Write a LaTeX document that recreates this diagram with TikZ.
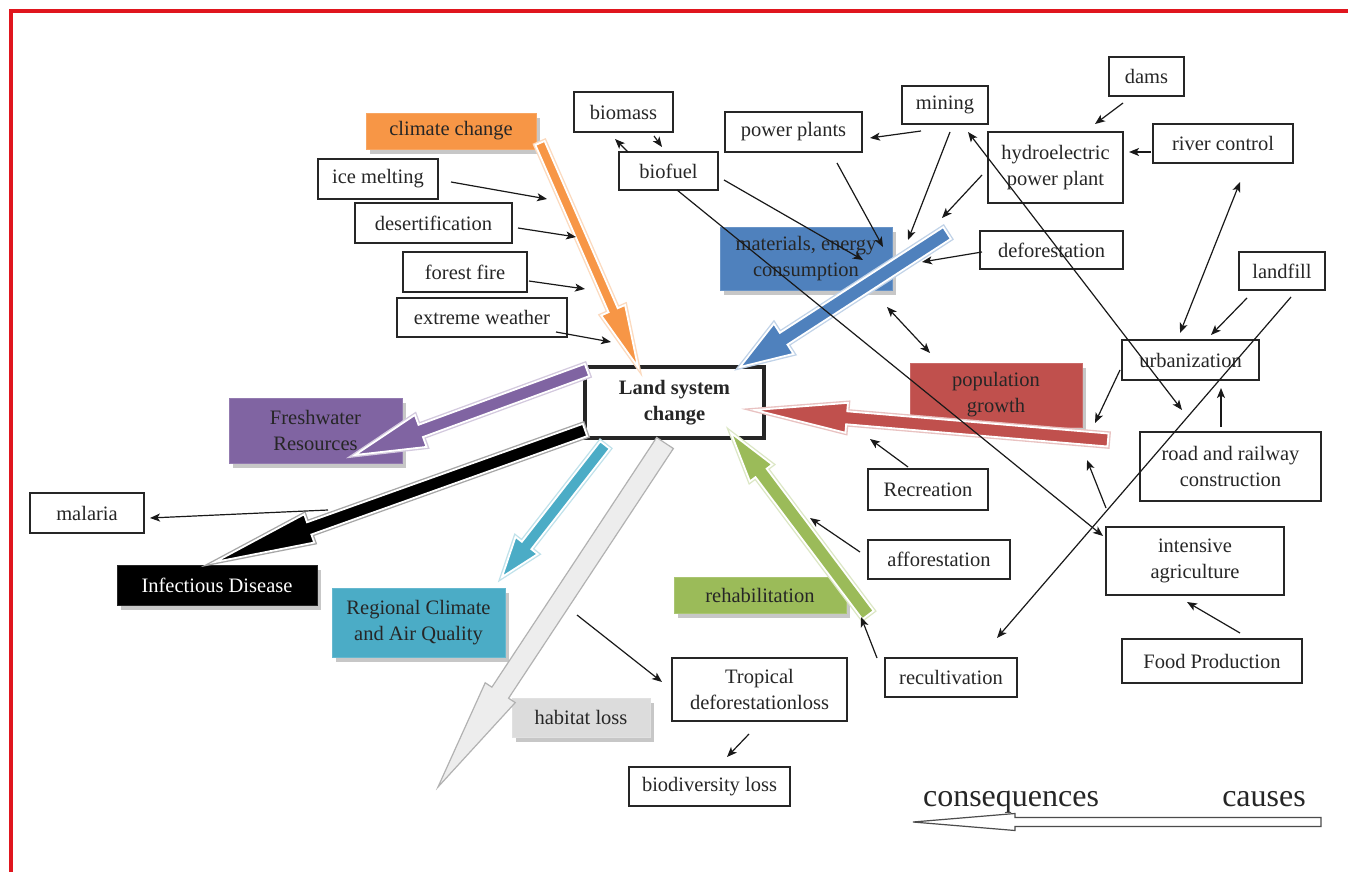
\documentclass[tikz,border=0pt]{standalone}
\usepackage{fontspec}
\setmainfont{Liberation Serif}
\usetikzlibrary{calc,arrows.meta,shadows}
\definecolor{wOrange}{HTML}{F79646}
\definecolor{wBlue}{HTML}{4F81BD}
\definecolor{wRed}{HTML}{C0504D}
\definecolor{wPurple}{HTML}{8064A2}
\definecolor{wCyan}{HTML}{4BACC6}
\definecolor{wGreen}{HTML}{9BBB59}
\definecolor{wGray}{HTML}{DCDCDC}
\definecolor{wFrame}{HTML}{E0161E}
\newcommand{\blockarr}[5]{%
  \coordinate (#2h) at ($(#2t)!#5pt!(#2s)$);
  \draw[#1] ($(#2s)!#3pt!90:(#2t)$) -- ($(#2h)!#3pt!90:(#2t)$) -- ($(#2h)!#4pt!90:(#2t)$) -- (#2t)
    -- ($(#2h)!#4pt!-90:(#2t)$) -- ($(#2h)!#3pt!-90:(#2t)$) -- ($(#2s)!#3pt!-90:(#2t)$) -- cycle;}
\tikzset{
 lbl/.style={font=\fontsize{20.5}{26}\selectfont, text=black!85},
 box/.style={lbl, draw=black!85, line width=1.4pt, fill=white, inner sep=0pt, align=center},
 cbox/.style={lbl, inner sep=0pt, align=center, fill=#1, draw=#1!85!white, line width=0.8pt,
   drop shadow={shadow xshift=4pt, shadow yshift=-5pt, fill=black, opacity=0.22}},
 sz/.style 2 args={minimum width=#1pt, minimum height=#2pt},
 lnk/.style={line width=1.2pt, draw=black!90},
 arrone/.style={lnk, -{Stealth[length=10pt,width=8pt,inset=2.5pt]}},
 arrtwo/.style={lnk, {Stealth[length=10pt,width=8pt,inset=2.5pt]}-{Stealth[length=10pt,width=8pt,inset=2.5pt]}},
 blk/.style={fill=#1, draw=white, line width=1.8pt, line join=miter,
   preaction={draw=#1!35!white, line width=4.5pt, line join=miter}},
 legtext/.style={font=\fontsize{32}{32}\selectfont, text=black!85, anchor=base, inner sep=0pt},
}
\begin{document}
\begin{tikzpicture}[x=1pt,y=-1pt]
\useasboundingbox (0,0) rectangle (1348,872);
\fill[white] (0,0) rectangle (1348,872);
\draw[wFrame, line width=3.5pt] (1348,11) -- (11,11) -- (11,872);

% ---------- coloured boxes ----------
\node[cbox=wOrange, sz={170}{36}] (climate) at (451,131) {climate change};
\node[cbox=wBlue, sz={172}{63}] (materials) at (806,258.5) {materials, energy\\consumption};
\node[cbox=wRed, sz={172}{64}] (population) at (996,395) {population\\growth};
\node[cbox=wGreen, sz={172}{36}] (rehab) at (760,595) {rehabilitation};
\node[cbox=wPurple, sz={173}{65}] (fresh) at (315.5,430.5) {Freshwater\\Resources};
\node[cbox=black, text=white, sz={200}{40}] (infect) at (217,585) {Infectious Disease};
\node[cbox=wCyan, sz={173}{69}] (regional) at (418.5,622.5) {Regional Climate\\and Air Quality};
\node[cbox=wGray, sz={138}{39}] (habitat) at (581,717.5) {habitat loss};

% ---------- white boxes ----------
\node[box, sz={99}{40}] (biomass) at (623.5,112) {biomass};
\node[box, sz={99}{38}] (biofuel) at (668.5,171) {biofuel};
\node[box, sz={120}{40}] (ice) at (378,179) {ice melting};
\node[box, sz={157}{40}] (desert) at (433.5,223) {desertification};
\node[box, sz={124}{40}] (fire) at (465,272) {forest fire};
\node[box, sz={170}{39}] (extreme) at (482,317.5) {extreme weather};
\node[box, sz={179}{71}, line width=3.5pt, font=\bfseries\fontsize{20.5}{26}\selectfont] (land) at (674.5,402.5) {Land system\\change};
\node[box, sz={137}{40}] (power) at (793.5,132) {power plants};
\node[box, sz={86}{38}] (mining) at (945,105) {mining};
\node[box, sz={75}{39}] (dams) at (1146.5,76.5) {dams};
\node[box, sz={135}{71}] (hydro) at (1055.5,167.5) {hydroelectric\\power plant};
\node[box, sz={140}{39}] (river) at (1223,143.5) {river control};
\node[box, sz={143}{38}] (defor) at (1051.5,250) {deforestation};
\node[box, sz={86}{38}] (landfill) at (1282,271) {landfill};
\node[box, sz={137}{40}] (urban) at (1190.5,360) {urbanization};
\node[box, sz={181}{69}] (road) at (1230.5,466.5) {road and railway\\construction};
\node[box, sz={120}{41}] (recreation) at (928,489.5) {Recreation};
\node[box, sz={142}{39}] (affor) at (939,559.5) {afforestation};
\node[box, sz={178}{68}] (intensive) at (1195,561) {intensive\\agriculture};
\node[box, sz={180}{44}] (food) at (1212,661) {Food Production};
\node[box, sz={132}{39}] (recult) at (951,677.5) {recultivation};
\node[box, sz={175}{63}] (tropical) at (759.5,689.5) {Tropical\\deforestationloss};
\node[box, sz={161}{39}] (biodiv) at (709.5,786.5) {biodiversity loss};
\node[box, sz={114}{40}] (malaria) at (87,513) {malaria};

% ---------- block arrows ----------
\coordinate (os) at (540,143);  \coordinate (ot) at (638,367);
\coordinate (bs) at (947,233);  \coordinate (bt) at (740,367);
\coordinate (rs) at (1108,440); \coordinate (rt) at (755,410);
\coordinate (ps) at (587,370);  \coordinate (pt) at (355,455);
\coordinate (ks) at (585,430);  \coordinate (kt) at (215,562);
\coordinate (cs) at (605,445);  \coordinate (ct) at (502,577);
\coordinate (gs) at (665,443);  \coordinate (gt) at (438,787);
\coordinate (ns) at (868,615);  \coordinate (nt) at (731,433);
\blockarr{blk=wOrange}{o}{5}{13}{62}
\blockarr{blk=wBlue}{b}{7}{18}{52}
\blockarr{blk=wRed}{r}{6.5}{15}{92}
\blockarr{blk=wPurple}{p}{6.5}{17}{70}
\blockarr{blk=black}{k}{6.5}{15}{100}
\blockarr{blk=wCyan}{c}{6}{14}{40}
\blockarr{fill=black!7, draw=black!30, line width=1.2pt, line join=miter}{g}{10}{18}{113}
\blockarr{blk=wGreen}{n}{7}{14}{50}

% ---------- thin arrows ----------
\foreach \n/\a/\b/\c/\d in {1/451/182/547/199, 2/518/228/576/237, 3/529/281/585/289, 4/556/332/611/342,
  5/628/152/615/139, 6/654/136/662/147, 7/921/131/870/138, 8/950/132/908/240, 9/837/163/883/247,
  10/724/180/863/260, 11/677/190/1103/536, 12/982/175/942/218, 13/1123/103/1095/124,
  14/1151/152/1129/152, 15/982/252/922/262, 19/1247/298/1211/335, 20/1291/297/997/638,
  21/1120/370/1095/423, 22/1221/427/1221/388, 23/908/467/870/439, 24/860/552/810/518,
  25/877/658/861/617, 26/577/615/662/682, 27/749/734/727/757, 28/1240/633/1187/602,
  29/1106/508/1087/460, 30/328/510/150/518}
  {\coordinate (s\n) at (\a,\b); \coordinate (e\n) at (\c,\d); \draw[arrone] (s\n) -- (e\n);}
\foreach \n/\a/\b/\c/\d in {16/887/307/930/353, 17/968/132/1182/410, 18/1240/182/1180/333}
  {\coordinate (s\n) at (\a,\b); \coordinate (e\n) at (\c,\d); \draw[arrtwo] (s\n) -- (e\n);}

% ---------- legend ----------
\node[legtext] (cons) at (1011,806) {consequences};
\node[legtext] (causes) at (1264,806) {causes};
\coordinate (legs) at (1321,822); \coordinate (legt) at (913,822);
\blockarr{fill=white, draw=black!70, line width=1.2pt}{leg}{4.5}{8.5}{102}
\end{tikzpicture}
\end{document}
